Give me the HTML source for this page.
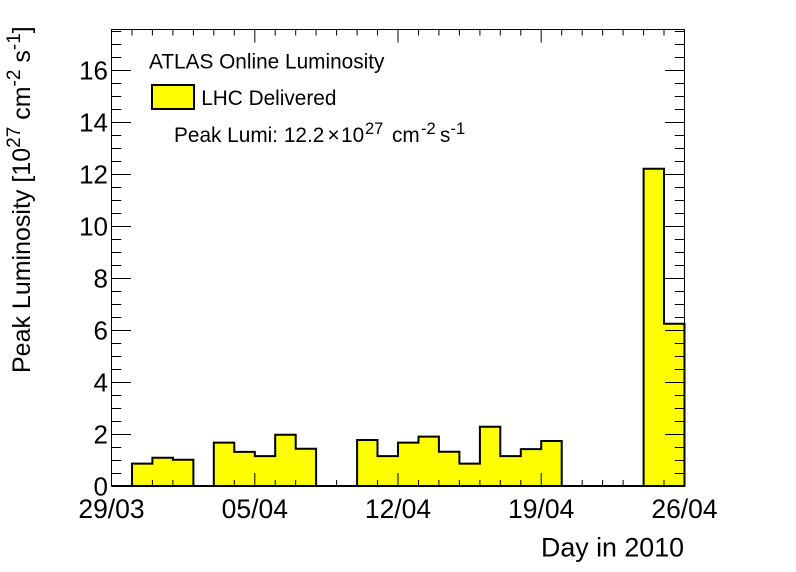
<!DOCTYPE html>
<html>
<head>
<meta charset="utf-8">
<style>
html,body{margin:0;padding:0;background:#fff;}
svg{display:block;}
text{font-family:"Liberation Sans",Arial,sans-serif;fill:#000;}
</style>
</head>
<body>
<svg width="796" height="572" viewBox="0 0 796 572" xmlns="http://www.w3.org/2000/svg">
<rect x="0" y="0" width="796" height="572" fill="#fff"/>
<!-- histogram -->
<path fill="#ffff00" stroke="#000" stroke-width="2" stroke-linejoin="miter" d="M111.5,486 H132.0 V463.6 H152.4 V457.7 H172.9 V459.7 H193.4 V486 H213.8 V442.6 H234.3 V451.9 H254.8 V456.1 H275.2 V434.8 H295.7 V448.8 H316.1 V486 H357.1 V440.0 H377.5 V456.1 H398.0 V442.6 H418.5 V436.6 H438.9 V451.7 H459.4 V463.6 H479.9 V426.7 H500.3 V456.1 H520.8 V449.1 H541.2 V441.0 H561.7 V486 H643.6 V168.8 H664.0 V323.8 H684.5 V486 Z"/>
<!-- x ticks bottom & top -->
<path fill="none" stroke="#000" stroke-width="1" d="
M132.0,486 v-6 M152.4,486 v-6 M172.9,486 v-6 M193.4,486 v-6 M213.8,486 v-6 M234.3,486 v-6 M254.8,486 v-13
M275.2,486 v-6 M295.7,486 v-6 M316.1,486 v-6 M336.6,486 v-6 M357.1,486 v-6 M377.5,486 v-6 M398.0,486 v-13
M418.5,486 v-6 M438.9,486 v-6 M459.4,486 v-6 M479.9,486 v-6 M500.3,486 v-6 M520.8,486 v-6 M541.2,486 v-13
M561.7,486 v-6 M582.2,486 v-6 M602.6,486 v-6 M623.1,486 v-6 M643.6,486 v-6 M664.0,486 v-6
M132.0,29.5 v6 M152.4,29.5 v6 M172.9,29.5 v6 M193.4,29.5 v6 M213.8,29.5 v6 M234.3,29.5 v6 M254.8,29.5 v13
M275.2,29.5 v6 M295.7,29.5 v6 M316.1,29.5 v6 M336.6,29.5 v6 M357.1,29.5 v6 M377.5,29.5 v6 M398.0,29.5 v13
M418.5,29.5 v6 M438.9,29.5 v6 M459.4,29.5 v6 M479.9,29.5 v6 M500.3,29.5 v6 M520.8,29.5 v6 M541.2,29.5 v13
M561.7,29.5 v6 M582.2,29.5 v6 M602.6,29.5 v6 M623.1,29.5 v6 M643.6,29.5 v6 M664.0,29.5 v6
"/>
<!-- y ticks left & right -->
<path fill="none" stroke="#000" stroke-width="1" d="
M111.5,473.5 h9.75 M111.5,460.5 h9.75 M111.5,447.5 h9.75 M111.5,434.5 h19.5
M111.5,421.5 h9.75 M111.5,408.5 h9.75 M111.5,395.5 h9.75 M111.5,382.5 h19.5
M111.5,369.5 h9.75 M111.5,356.5 h9.75 M111.5,343.5 h9.75 M111.5,330.5 h19.5
M111.5,317.5 h9.75 M111.5,304.5 h9.75 M111.5,291.5 h9.75 M111.5,278.5 h19.5
M111.5,265.5 h9.75 M111.5,252.5 h9.75 M111.5,239.5 h9.75 M111.5,226.5 h19.5
M111.5,213.5 h9.75 M111.5,200.5 h9.75 M111.5,187.5 h9.75 M111.5,174.5 h19.5
M111.5,161.5 h9.75 M111.5,148.5 h9.75 M111.5,135.5 h9.75 M111.5,122.5 h19.5
M111.5,109.5 h9.75 M111.5,96.5 h9.75 M111.5,83.5 h9.75 M111.5,70.5 h19.5
M111.5,57.5 h9.75 M111.5,44.5 h9.75 M111.5,31.5 h9.75
M684.5,473.5 h-9.75 M684.5,460.5 h-9.75 M684.5,447.5 h-9.75 M684.5,434.5 h-19.5
M684.5,421.5 h-9.75 M684.5,408.5 h-9.75 M684.5,395.5 h-9.75 M684.5,382.5 h-19.5
M684.5,369.5 h-9.75 M684.5,356.5 h-9.75 M684.5,343.5 h-9.75 M684.5,330.5 h-19.5
M684.5,317.5 h-9.75 M684.5,304.5 h-9.75 M684.5,291.5 h-9.75 M684.5,278.5 h-19.5
M684.5,265.5 h-9.75 M684.5,252.5 h-9.75 M684.5,239.5 h-9.75 M684.5,226.5 h-19.5
M684.5,213.5 h-9.75 M684.5,200.5 h-9.75 M684.5,187.5 h-9.75 M684.5,174.5 h-19.5
M684.5,161.5 h-9.75 M684.5,148.5 h-9.75 M684.5,135.5 h-9.75 M684.5,122.5 h-19.5
M684.5,109.5 h-9.75 M684.5,96.5 h-9.75 M684.5,83.5 h-9.75 M684.5,70.5 h-19.5
M684.5,57.5 h-9.75 M684.5,44.5 h-9.75 M684.5,31.5 h-9.75
"/>
<!-- frame -->
<rect x="111.5" y="29.5" width="573" height="456.5" fill="none" stroke="#000" stroke-width="1"/>
<!-- y labels -->
<g font-size="26" text-anchor="end">
<text x="108" y="495.3">0</text>
<text x="108" y="443.3">2</text>
<text x="108" y="391.3">4</text>
<text x="108" y="339.3">6</text>
<text x="108" y="287.3">8</text>
<text x="108" y="235.3">10</text>
<text x="108" y="183.3">12</text>
<text x="108" y="131.3">14</text>
<text x="108" y="79.3">16</text>
</g>
<!-- x labels -->
<g font-size="26.5" text-anchor="middle">
<text x="111.5" y="518">29/03</text>
<text x="254.8" y="518">05/04</text>
<text x="398.0" y="518">12/04</text>
<text x="541.2" y="518">19/04</text>
<text x="684.5" y="518">26/04</text>
</g>
<text x="684" y="556.5" font-size="26.8" text-anchor="end">Day in 2010</text>
<text transform="translate(30,373) rotate(-90)" font-size="25">Peak Luminosity [10<tspan dy="-10" font-size="19">27</tspan><tspan dy="10"> cm</tspan><tspan dy="-10" font-size="19">-2</tspan><tspan dy="10"> s</tspan><tspan dy="-10" font-size="19">-1</tspan><tspan dy="10">]</tspan></text>
<!-- legend -->
<text x="149" y="68.3" font-size="20.8">ATLAS Online Luminosity</text>
<rect x="152" y="85" width="42" height="24" fill="#ffff00" stroke="#000" stroke-width="2"/>
<text x="201.2" y="105" font-size="20.8">LHC Delivered</text>
<text x="174" y="142" font-size="20.8">Peak Lumi: 12.2</text>
<text x="327.5" y="142" font-size="20.8">×</text>
<text x="341" y="142" font-size="20.8">10</text>
<text x="365" y="134" font-size="16.5">27</text>
<text x="392" y="142" font-size="20.8">cm</text>
<text x="421" y="134" font-size="16.5">-2</text>
<text x="440" y="142" font-size="20.8">s</text>
<text x="450.5" y="134" font-size="16.5">-1</text>
</svg>
</body>
</html>
